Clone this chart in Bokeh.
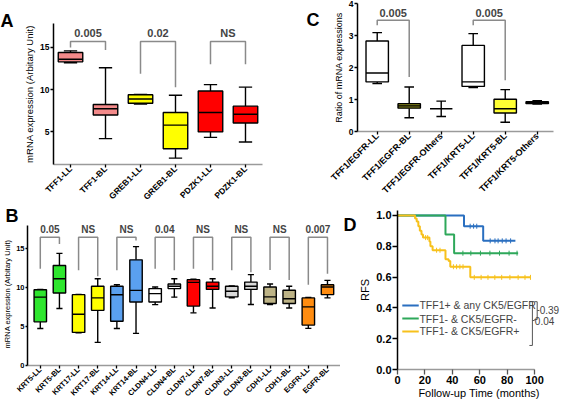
import math
from bokeh.plotting import figure
from bokeh.layouts import row, column
from bokeh.models import Range1d, FixedTicker, Label, PrintfTickFormatter, LinearAxis
from bokeh.embed import file_html
from bokeh.resources import INLINE

FONT = "Liberation Sans"

# ---------------- Panel A data ----------------
a_labels = ["TFF1-LL", "TFF1-BL", "GREB1-LL", "GREB1-BL", "PDZK1-LL", "PDZK1-BL"]
a_low = [13.2, 4.2, 8.3, 1.9, 4.35, 3.8]
a_q1 = [13.3, 7.0, 8.4, 3.0, 5.0, 6.05]
a_med = [13.6, 7.75, 8.9, 5.8, 7.3, 7.1]
a_q3 = [14.4, 8.25, 9.4, 7.3, 9.85, 8.05]
a_high = [14.6, 12.6, 9.45, 9.35, 10.6, 10.3]
a_colors = ["#f38a8a", "#f38a8a", "#ffff00", "#ffff00", "#ff0000", "#ff0000"]
a_pvals = ["0.005", "0.02", "NS"]
a_leg_left = [15.0, 11.9, 13.0]
a_leg_right = [14.7, 10.3, 13.0]
a_top = 15.7

# ---------------- Panel B data ----------------
b_labels = ["KRT5-LL", "KRT5-BL", "KRT17-LL", "KRT17-BL", "KRT14-LL", "KRT14-BL",
            "CLDN4-LL", "CLDN4-BL", "CLDN7-LL", "CLDN7-BL", "CLDN3-LL", "CLDN3-BL",
            "CDH1-LL", "CDH1-BL", "EGFR-LL", "EGFR-BL"]
b_low = [4.77, 7.33, 4.2, 2.98, 4.77, 4.13, 7.84, 8.8, 6.78, 7.4, 8.73, 7.85, 7.85, 7.4, 4.78, 8.7]
b_q1 = [5.62, 9.33, 4.26, 7.1, 5.7, 8.18, 8.18, 9.9, 7.65, 9.8, 8.83, 9.8, 7.98, 7.98, 5.2, 9.13]
b_med = [8.8, 11.16, 6.6, 8.7, 9.1, 9.67, 9.25, 10.2, 10.7, 10.2, 9.55, 10.2, 8.83, 8.6, 7.55, 10.1]
b_q3 = [9.76, 12.87, 9.12, 10.2, 10.2, 13.6, 9.9, 10.5, 11.05, 10.74, 10.2, 10.74, 10.1, 9.68, 8.7, 10.4]
b_high = [9.8, 14.44, 9.16, 11.16, 10.4, 15.3, 10.1, 11.16, 11.1, 11.17, 10.25, 11.7, 10.5, 10.2, 8.75, 10.96]
b_colors = ["#2ee62e", "#2ee62e", "#ffff00", "#ffff00", "#5aa0f0", "#5aa0f0",
            "#ffffff", "#ffffff", "#ff0000", "#ff0000", "#d9d9d9", "#d9d9d9",
            "#bdb386", "#bdb386", "#ff8c10", "#ff8c10"]
b_pvals = ["0.05", "NS", "NS", "0.04", "NS", "NS", "NS", "0.007"]
b_leg_left = [12.45, 12.25, 12.25, 12.45, 12.45, 12.25, 12.3, 10.4]
b_leg_right = [15.65, 11.5, 16.1, 12.25, 12.25, 12.0, 11.0, 11.8]
b_top = 16.5

# ---------------- Panel C data ----------------
c_labels = ["TFF1/EGFR-LL", "TFF1/EGFR-BL", "TFF1/EGFR-Others",
            "TFF1/KRT5-LL", "TFF1/KRT5-BL", "TFF1/KRT5-Others"]
c_low = [1.5, 0.43, 0.47, 1.37, 0.29, 0.86]
c_q1 = [1.55, 0.73, 0.71, 1.41, 0.58, 0.87]
c_med = [1.83, 0.80, 0.71, 1.55, 0.71, 0.90]
c_q3 = [2.83, 0.87, 0.71, 2.69, 1.01, 0.93]
c_high = [3.09, 1.39, 0.95, 3.06, 1.31, 0.96]
c_colors = ["#ffffff", "#8c8c1a", "#ffffff", "#ffffff", "#ffff33", "#cccccc"]
c_pvals = ["0.005", "0.005"]
c_pairs = [(1, 2), (4, 5)]
c_leg_left = [3.32, 3.32]
c_leg_right = [1.70, 1.60]
c_top = 3.48

# ---------------- Panel D data ----------------
d_names = ["TFF1+ & any CK5/EGFR", "TFF1- & CK5/EGFR-", "TFF1- & CK5/EGFR+"]
d_colors = ["#2a6fc0", "#2ea85a", "#f7c11c"]
blue_t = [0, 48.5, 62.5]
blue_s = [1.0, 0.93, 0.835]
blue_end = 86
blue_cens = [53, 55.5, 57.8, 67.6, 71.1, 73.4, 76.4, 79.2, 82.5]
green_t = [0, 35, 41.3]
green_s = [1.0, 0.877, 0.755]
green_end = 88
green_cens = [47.7, 53.5, 60.5, 67.4, 74.4, 81.4, 87.2]
yel_t = [0, 12.8, 14, 15.2, 16.3, 17.5, 18.6, 23.3, 24, 25.6, 35, 37.3, 38.5, 53.1]
yel_s = [1.0, 0.98, 0.96, 0.93, 0.90, 0.877, 0.856, 0.83, 0.80, 0.774, 0.716, 0.705, 0.667, 0.598]
yel_end = 97
yel_cens = [20.5, 22, 28.5, 31, 40.8, 43.1, 45.5, 47.8, 56, 61, 66, 71, 76, 82, 88, 93, 97]
d_xticks = [0, 20, 40, 60, 80, 100]
d_yticks = [0.0, 0.2, 0.4, 0.6, 0.8, 1.0]


def make_fig(w, h, xr, yr, left, right, top, bottom):
    p = figure(width=w, height=h, x_range=Range1d(*xr), y_range=Range1d(*yr),
               output_backend="svg", toolbar_location=None,
               min_border_left=left, min_border_right=right,
               min_border_top=top, min_border_bottom=bottom)
    p.frame_align = False
    p.grid.visible = False
    p.outline_line_color = None
    p.background_fill_color = "white"
    p.border_fill_color = "white"
    for ax in (p.xaxis[0], p.yaxis[0]):
        ax.major_label_text_font = FONT
        ax.axis_label_text_font = FONT
        ax.axis_label_text_font_style = "normal"
        ax.major_label_text_font_style = "bold"
        ax.major_label_text_color = "black"
        ax.axis_label_text_color = "black"
        ax.minor_tick_line_color = None
        ax.major_tick_in = 0
        ax.major_tick_out = 3
        ax.axis_line_width = 1.5
        ax.major_tick_line_width = 1.3
        ax.major_label_standoff = 1
        ax.axis_label_standoff = 2
    p.xaxis.axis_line_color = "#9a9a9a"
    p.yaxis.axis_line_color = "black"
    return p


def title_letter(p, text, offset, standoff):
    p.title.text = text
    p.title.align = "left"
    p.title.offset = offset
    p.title.vertical_align = "middle"
    p.title.standoff = standoff
    p.title.text_font = FONT
    p.title.text_font_size = "18px"
    p.title.text_font_style = "bold"
    p.title.text_color = "black"


def axis_letter(p, text, yval, standoff):
    ax = LinearAxis(ticker=FixedTicker(ticks=[yval]), major_label_overrides={yval: text})
    ax.axis_line_color = None
    ax.major_tick_line_color = None
    ax.minor_tick_line_color = None
    ax.major_tick_in = 0
    ax.major_tick_out = 0
    ax.major_label_standoff = standoff
    ax.major_label_text_font = FONT
    ax.major_label_text_font_size = "18px"
    ax.major_label_text_font_style = "bold"
    ax.major_label_text_color = "black"
    p.add_layout(ax, "left")


def txt(p, x, y, text, size, bold=True, align="center"):
    p.add_layout(Label(x=x, y=y, text=text, text_font=FONT, text_font_size=size,
                       text_font_style="bold" if bold else "normal",
                       text_align=align, text_baseline="middle"))


def draw_boxes(p, low, q1, med, q3, high, colors, bw, cw, lw=1.4):
    xs = list(range(1, len(low) + 1))
    p.segment(x0=xs, y0=q3, x1=xs, y1=high, line_color="black", line_width=lw)
    p.segment(x0=xs, y0=low, x1=xs, y1=q1, line_color="black", line_width=lw)
    p.segment(x0=[x - cw / 2 for x in xs], y0=high, x1=[x + cw / 2 for x in xs], y1=high,
              line_color="black", line_width=lw)
    p.segment(x0=[x - cw / 2 for x in xs], y0=low, x1=[x + cw / 2 for x in xs], y1=low,
              line_color="black", line_width=lw)
    hasbox = [a != b for a, b in zip(q1, q3)]
    bx = [x for x, h in zip(xs, hasbox) if h]
    p.vbar(x=bx, width=bw, top=[v for v, h in zip(q3, hasbox) if h],
           bottom=[v for v, h in zip(q1, hasbox) if h],
           fill_color=[c for c, h in zip(colors, hasbox) if h], line_color="black", line_width=lw)
    p.segment(x0=[x - bw / 2 for x in xs], y0=med, x1=[x + bw / 2 for x in xs], y1=med,
              line_color="black", line_width=lw)


def draw_brackets(p, pairs, lefts, rights, top, pvals, label_y, size):
    for (xl, xr), ly, ry, pv in zip(pairs, lefts, rights, pvals):
        p.line([xl, xl, xr, xr], [ly, top, top, ry], line_color="#8a8a8a", line_width=1.5)
        txt(p, (xl + xr) / 2, label_y, pv, size)


def cat_axis(p, labels, size):
    p.xaxis.ticker = FixedTicker(ticks=list(range(1, len(labels) + 1)))
    p.xaxis.major_label_overrides = {i + 1: lab for i, lab in enumerate(labels)}
    p.xaxis.major_label_orientation = math.pi / 4
    p.xaxis.major_label_text_font_size = size
    p.xaxis.major_label_standoff = 0
    p.xaxis.major_tick_out = 3


# ---------------- Panel A ----------------
pa = make_fig(290, 208, (0.514, 6.486), (1.14, 17.84), 53, 28, 23, 38)
draw_boxes(pa, a_low, a_q1, a_med, a_q3, a_high, a_colors, 0.7, 0.38)
draw_brackets(pa, [(1, 2), (3, 4), (5, 6)], a_leg_left, a_leg_right, a_top, a_pvals, 16.7, "11px")
cat_axis(pa, a_labels, "8.5px")
pa.yaxis.ticker = FixedTicker(ticks=[5, 10, 15])
pa.yaxis.major_label_text_font_size = "8.5px"
pa.yaxis.axis_label = "mRNA expression (Arbitary Unit)"
pa.yaxis.axis_label_text_font_size = "9.5px"
title_letter(pa, "A", -53, -16)

# ---------------- Panel C ----------------
pc = make_fig(275, 208, (0.384, 6.509), (0, 4), 67, 12, 3, 77)
draw_boxes(pc, c_low, c_q1, c_med, c_q3, c_high, c_colors, 0.7, 0.3)
draw_brackets(pc, c_pairs, c_leg_left, c_leg_right, c_top, c_pvals, 3.69, "11px")
cat_axis(pc, c_labels, "9px")
pc.yaxis.ticker = FixedTicker(ticks=[0, 1, 2, 3, 4])
pc.yaxis.major_label_text_font_size = "8.5px"
pc.yaxis.axis_label = "Ratio of mRNA expressions"
pc.yaxis.axis_label_text_font_size = "9px"
axis_letter(pc, "C", 3.5, 11)

# ---------------- Panel B ----------------
pb = make_fig(340, 196, (0.332, 16.68), (0, 18.41), 22, 0, 14, 38)
draw_boxes(pb, b_low, b_q1, b_med, b_q3, b_high, b_colors, 0.65, 0.32)
draw_brackets(pb, [(2 * i + 1, 2 * i + 2) for i in range(8)], b_leg_left, b_leg_right,
              b_top, b_pvals, 17.55, "10px")
cat_axis(pb, b_labels, "7.5px")
pb.yaxis.ticker = FixedTicker(ticks=[0, 5, 10, 15])
pb.yaxis.bounds = (0, 18)
pb.yaxis.major_label_text_font_size = "7.5px"
pb.yaxis.axis_label = "mRNA expression (Arbitary Unit)"
pb.yaxis.axis_label_text_font_size = "7.5px"
pb.yaxis.axis_label_standoff = 1
pb.yaxis.major_tick_out = 2
title_letter(pb, "B", -22, -8)

# ---------------- Panel D ----------------
pd_ = make_fig(225, 196, (0, 118.9), (0, 1.032), 50, 5, 2, 35)


def surv_at(times, surv, t):
    s = surv[0]
    for ti, si in zip(times, surv):
        if ti <= t:
            s = si
    return s


curves = [(blue_t, blue_s, blue_end, blue_cens), (green_t, green_s, green_end, green_cens),
          (yel_t, yel_s, yel_end, yel_cens)]
for (t, s, end, cens), col in zip(curves, d_colors):
    pd_.step(x=t + [end], y=s + [s[-1]], mode="after", line_color=col, line_width=2)
    pd_.scatter(x=cens, y=[surv_at(t, s, c) for c in cens], marker="dash", angle=math.pi / 2,
                size=5, line_color=col, line_width=1)

# legend (manual)
leg_y = [0.416, 0.331, 0.247]
for name, col, yy in zip(d_names, d_colors, leg_y):
    pd_.line([3.5, 15.5], [yy, yy], line_color=col, line_width=2)
    txt(pd_, 16, yy, name, "10.5px", bold=False, align="left")
# significance brackets
pd_.line([96.2, 98.4, 98.4, 96.2], [0.44, 0.44, 0.156, 0.156], line_color="#555555", line_width=1)
pd_.line([98.4, 100], [0.318, 0.318], line_color="#555555", line_width=1)
pd_.line([99.8, 101.9, 101.9, 99.8], [0.44, 0.44, 0.325, 0.325], line_color="#555555", line_width=1)
pd_.line([101.9, 103.5], [0.383, 0.383], line_color="#555555", line_width=1)
txt(pd_, 100.2, 0.318, "0.04", "10px", bold=False, align="left")
txt(pd_, 103.7, 0.383, "0.39", "10px", bold=False, align="left")

pd_.xaxis.ticker = FixedTicker(ticks=d_xticks)
pd_.yaxis.ticker = FixedTicker(ticks=d_yticks)
pd_.yaxis.formatter = PrintfTickFormatter(format="%.1f")
pd_.xaxis.bounds = (0, 100)
pd_.yaxis.bounds = (0, 1.03)
pd_.xaxis.major_label_text_font_size = "11px"
pd_.yaxis.major_label_text_font_size = "11px"
pd_.xaxis.major_tick_out = 5
pd_.yaxis.major_tick_out = 5
pd_.xaxis.major_tick_line_color = "#555555"
pd_.xaxis.axis_label = "Follow-up Time (months)"
pd_.yaxis.axis_label = "RFS"
pd_.xaxis.axis_label_text_font_size = "11px"
pd_.yaxis.axis_label_text_font_size = "11px"
pd_.xaxis.axis_label_standoff = 0
axis_letter(pd_, "D", 1.02, 0)

layout = column(row(pa, pc), row(pb, pd_))
open("out.html", "w").write(file_html(layout, INLINE))
